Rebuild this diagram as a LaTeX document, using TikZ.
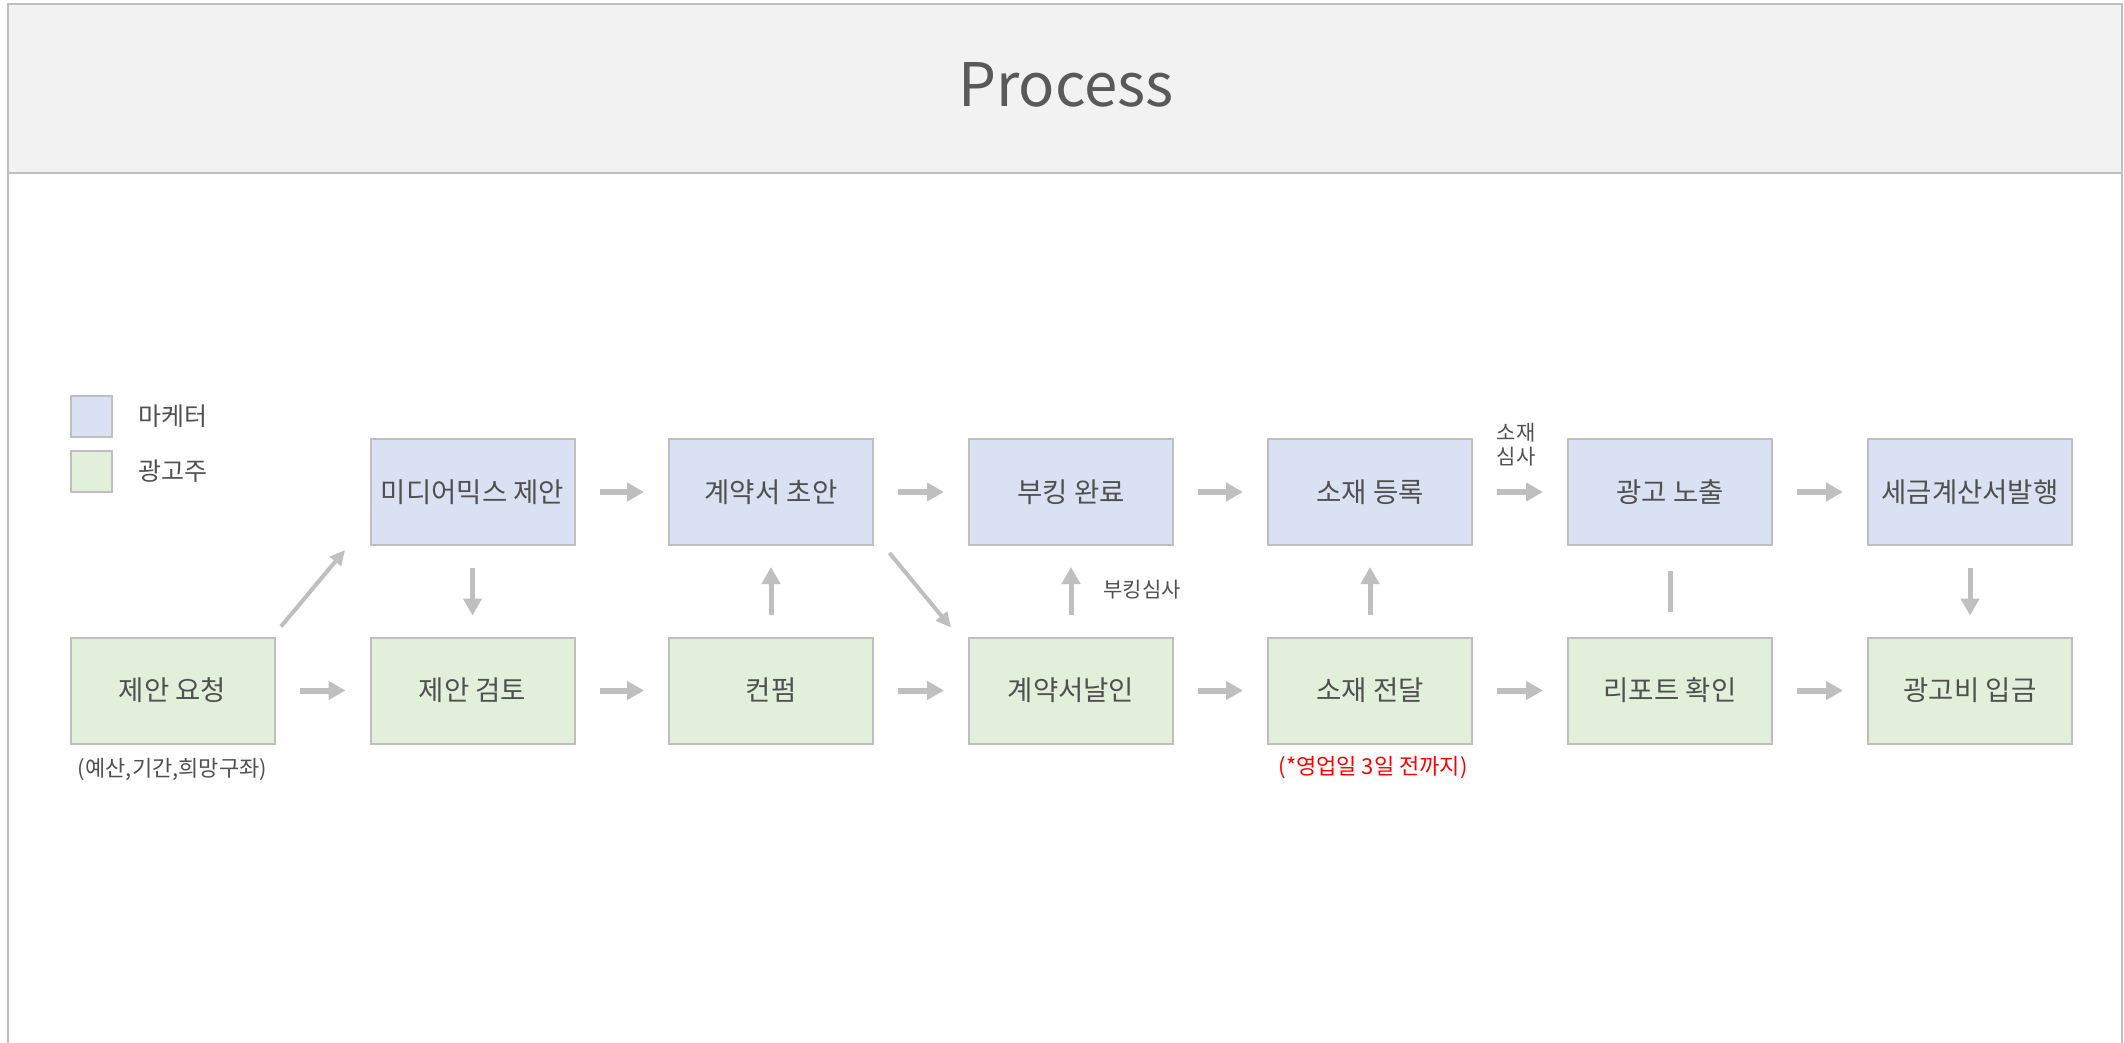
\documentclass[tikz,border=0pt]{standalone}
\usepackage{fontspec}
\setmainfont{Noto Sans CJK KR}
\usetikzlibrary{arrows.meta,calc}
\definecolor{bluefill}{HTML}{D9E1F2}
\definecolor{greenfill}{HTML}{E2EFDA}
\definecolor{edgegray}{HTML}{BFBFBF}
\definecolor{headfill}{HTML}{F2F2F2}
\definecolor{txtgray}{HTML}{505050}
\definecolor{titlegray}{HTML}{595959}
\definecolor{arrgray}{HTML}{BFBFBF}
\begin{document}
\begin{tikzpicture}[x=1pt,y=-1pt,
  box/.style={draw=edgegray,line width=2pt,minimum width=204pt,minimum height=106pt,inner sep=0pt,text=txtgray,font=\fontsize{27.5}{31}\selectfont},
  mk/.style={box,fill=bluefill},
  ad/.style={box,fill=greenfill},
  legbox/.style={draw=edgegray,line width=2pt,minimum width=41pt,minimum height=41pt,inner sep=0pt},
  legtext/.style={anchor=west,inner sep=0pt,text=txtgray,font=\fontsize{25}{29}\selectfont},
  note/.style={inner sep=0pt,text=txtgray,font=\fontsize{22}{25}\selectfont,align=center},
  smallnote/.style={note,font=\fontsize{21}{24}\selectfont},
  harrow/.style={draw=arrgray,line width=6pt,-{Triangle[length=17pt,width=18pt]},shorten <=24pt,shorten >=24pt},
  varrow/.style={draw=arrgray,line width=5pt,-{Triangle[length=17pt,width=18pt]},shorten <=22pt,shorten >=21pt},
  darrow/.style={draw=arrgray,line width=4pt,-{Triangle[length=15pt,width=14pt]}},
  plainline/.style={draw=arrgray,line width=5pt,shorten <=25pt,shorten >=25pt}
]
\useasboundingbox (0,0) rectangle (2124,1043);
% frame and header
\fill[headfill] (8,4) rectangle (2122,173);
\draw[edgegray,line width=2pt] (8,1043) -- (8,4) -- (2122,4) -- (2122,1043);
\draw[edgegray,line width=2pt] (8,173) -- (2122,173);
\node[text=titlegray,font=\fontsize{60}{66}\selectfont,inner sep=0pt] (title) at (1066,85) {Process};

% legend
\node[legbox,fill=bluefill] (lgm) at (91,416.5) {};
\node[legtext] (lgmt) at (138,416.5) {마케터};
\node[legbox,fill=greenfill] (lga) at (91,471.5) {};
\node[legtext] (lgat) at (138,471.5) {광고주};

% top row (marketer)
\node[mk] (mix)   at (472.5,492) {미디어믹스 제안};
\node[mk] (draft) at (771,492)   {계약서 초안};
\node[mk] (book)  at (1071,492)  {부킹 완료};
\node[mk] (reg)   at (1370,492)  {소재 등록};
\node[mk] (expo)  at (1670,492)  {광고 노출};
\node[mk] (tax)   at (1970,492)  {세금계산서발행};

% bottom row (advertiser)
\node[ad] (req)    at (172.5,690.5) {제안 요청};
\node[ad] (rev)    at (472.5,690.5) {제안 검토};
\node[ad] (conf)   at (771,690.5)   {컨펌};
\node[ad] (seal)   at (1071,690.5)  {계약서날인};
\node[ad] (send)   at (1370,690.5)  {소재 전달};
\node[ad] (report) at (1670,690.5)  {리포트 확인};
\node[ad] (pay)    at (1970,690.5)  {광고비 입금};

% notes
\node[note] (n1) at (172.5,770) {(예산,기간,희망구좌)};
\node[note,text=red] (n2) at (1373,768) {(*영업일 3일 전까지)};
\node[smallnote] (n3) at (1142,590) {부킹심사};
\node[smallnote] (n4) at (1516,445) {소재\\심사};

% horizontal arrows
\draw[harrow] (req) -- (rev);
\draw[harrow] (rev) -- (conf);
\draw[harrow] (conf) -- (seal);
\draw[harrow] (seal) -- (send);
\draw[harrow] (send) -- (report);
\draw[harrow] (report) -- (pay);
\draw[harrow] (mix) -- (draft);
\draw[harrow] (draft) -- (book);
\draw[harrow] (book) -- (reg);
\draw[harrow] (reg) -- (expo);
\draw[harrow] (expo) -- (tax);

% vertical arrows
\draw[varrow] (mix) -- (rev);
\draw[varrow] (conf) -- (draft);
\draw[varrow] (seal) -- (book);
\draw[varrow] (send) -- (reg);
\draw[varrow] (tax) -- (pay);
\draw[plainline] (expo) -- (report);

% diagonal arrows
\draw[darrow] ($(req.north east)+(5.5,-10)$) -- ($(mix.south west)+(-24.5,4)$);
\draw[darrow] ($(draft.south east)+(15.5,7)$) -- ($(seal.north west)+(-17,-9)$);
\end{tikzpicture}
\end{document}
